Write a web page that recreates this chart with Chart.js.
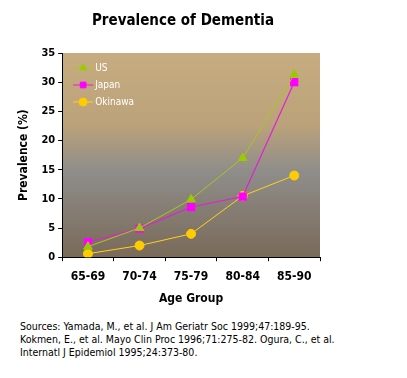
<!DOCTYPE html>
<html>
<head>
<meta charset="utf-8">
<script src="https://cdn.jsdelivr.net/npm/chart.js@4"></script>
<style>
  html, body { margin: 0; padding: 0; background: #fff; }
  #wrap { position: relative; width: 407px; height: 378px; }
  #title {
    position: absolute; left: 0; top: 10px; width: 366px; text-align: center;
    font-family: 'DejaVu Sans Condensed', sans-serif; font-weight: bold;
    font-size: 15px; line-height: 20px; color: #000;
  }
  #sources {
    position: absolute; left: 20px; top: 320px; width: 385px;
    font-family: 'DejaVu Sans Condensed', sans-serif;
    font-size: 10.5px; line-height: 13px; color: #000;
  }
</style>
</head>
<body>
<div id="wrap">
  <canvas id="chart" width="407" height="310"></canvas>
  <div id="title">Prevalence of Dementia</div>
  <div id="sources">Sources: Yamada, M., et al. J Am Geriatr Soc 1999;47:189-95.<br>Kokmen, E., et al. Mayo Clin Proc 1996;71:275-82. Ogura, C., et al.<br>Internatl J Epidemiol 1995;24:373-80.</div>
</div>
<script>
const ageGroups = ['65-69', '70-74', '75-79', '80-84', '85-90'];
const usValues = [1.8, 5.0, 9.9, 17.0, 31.3];
const japanValues = [2.6, 4.9, 8.6, 10.4, 30.0];
const okinawaValues = [0.6, 2.0, 4.0, 10.5, 14.0];
const seriesNames = ['US', 'Japan', 'Okinawa'];

const FONT = "'DejaVu Sans Condensed', sans-serif";

// gradient background behind the plot area
const plotBackground = {
    id: 'plotBackground',
    beforeDraw(chart) {
        const { ctx, chartArea: a } = chart;
        const g = ctx.createLinearGradient(0, a.top, 0, a.bottom);
        g.addColorStop(0, '#c7ac80');
        g.addColorStop(0.35, '#bba27a');
        g.addColorStop(0.58, '#8f8d8a');
        g.addColorStop(1, '#7a6a59');
        ctx.save();
        ctx.fillStyle = g;
        ctx.fillRect(a.left, a.top, a.right - a.left, a.bottom - a.top);
        ctx.restore();
    }
};

// legend drawn inside the plot, top-left
const innerLegend = {
    id: 'innerLegend',
    afterDatasetsDraw(chart) {
        const { ctx, chartArea: a } = chart;
        ctx.save();
        ctx.font = '10px ' + FONT;
        ctx.textBaseline = 'middle';
        chart.data.datasets.forEach((ds, i) => {
            const y = a.top + 15 + i * 17;
            const x0 = a.left + 11;
            ctx.strokeStyle = ds.borderColor;
            ctx.lineWidth = 1;
            ctx.beginPath();
            ctx.moveTo(x0, y);
            ctx.lineTo(x0 + 20, y);
            ctx.stroke();
            ctx.fillStyle = ds.pointBackgroundColor;
            ctx.strokeStyle = ds.pointBackgroundColor;
            Chart.helpers.drawPoint(ctx, {
                pointStyle: ds.pointStyle, radius: 4, borderWidth: 1
            }, x0 + 10, y);
            ctx.fillStyle = '#ffffff';
            ctx.fillText(ds.label, x0 + 22, y);
        });
        ctx.restore();
    }
};

new Chart(document.getElementById('chart'), {
    type: 'line',
    data: {
        labels: ageGroups,
        datasets: [{
            label: seriesNames[0],
            data: usValues,
            borderColor: '#a8c81e',
            pointBackgroundColor: '#99cc00',
            pointBorderColor: '#99cc00',
            pointStyle: 'triangle',
            pointRadius: 5,
            borderWidth: 1
        }, {
            label: seriesNames[1],
            data: japanValues,
            borderColor: '#e020d0',
            pointBackgroundColor: '#ff00ff',
            pointBorderColor: '#ff00ff',
            pointStyle: 'rect',
            pointRadius: 5,
            borderWidth: 1.2
        }, {
            label: seriesNames[2],
            data: okinawaValues,
            borderColor: '#ffd21a',
            pointBackgroundColor: '#ffcc00',
            pointBorderColor: '#ffcc00',
            pointStyle: 'circle',
            pointRadius: 4.5,
            borderWidth: 1
        }]
    },
    options: {
        responsive: false,
        animation: false,
        layout: { padding: { left: 13, right: 87, top: 53, bottom: 0 } },
        plugins: {
            legend: { display: false },
            tooltip: { enabled: false },
            title: { display: false }
        },
        scales: {
            x: {
                offset: true,
                grid: { display: true, drawOnChartArea: false, color: '#000', tickLength: 4, offset: true },
                border: { color: '#000', width: 1 },
                ticks: { color: '#000', font: { family: FONT, size: 12, weight: 'bold' }, padding: 8 },
                title: {
                    display: true, text: 'Age Group', color: '#000',
                    font: { family: FONT, size: 12, weight: 'bold' }, padding: { top: 0 }
                }
            },
            y: {
                min: 0,
                max: 35,
                grid: { display: true, drawOnChartArea: false, color: '#000', tickLength: 4 },
                border: { color: '#000', width: 1 },
                ticks: { stepSize: 5, color: '#000', font: { family: FONT, size: 11, weight: 'bold' }, padding: 3 },
                title: {
                    display: true, text: 'Prevalence (%)', color: '#000',
                    font: { family: FONT, size: 12, weight: 'bold' }, padding: { bottom: 7 }
                }
            }
        }
    },
    plugins: [plotBackground, innerLegend]
});
</script>
</body>
</html>
